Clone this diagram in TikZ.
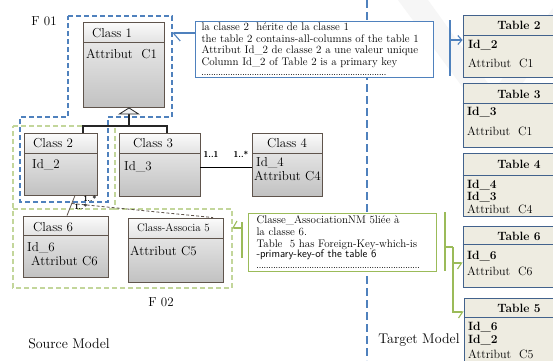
\documentclass[tikz,border=0pt]{standalone}
\usetikzlibrary{arrows.meta,fit}
\definecolor{wordblue}{RGB}{79,129,189}
\definecolor{tabedge}{RGB}{66,98,140}
\definecolor{tabfill}{RGB}{238,236,225}
\definecolor{wordgreen}{RGB}{155,187,89}
\definecolor{lightgreen}{RGB}{195,214,155}
\definecolor{classedge}{RGB}{95,84,76}
\newcommand\notedots[1]{\makebox[#1][l]{\leaders\hbox to 2.4pt{\hss.\hss}\hfill}}
\begin{document}
\begin{tikzpicture}[x=1pt,y=-1pt,
  classbody/.style={draw=classedge,line width=0.9pt,top color=gray!10,bottom color=gray!48,inner sep=0pt},
  classhead/.style={draw=classedge,line width=0.9pt,top color=gray!3,bottom color=gray!22,inner sep=0pt},
  tablebox/.style={draw=tabedge,line width=0.9pt,fill=tabfill,inner sep=0pt},
  classtext/.style={anchor=base west,font=\fontsize{13}{15}\selectfont},
  tabletitle/.style={anchor=base,font=\bfseries\fontsize{12}{14}\selectfont},
  tablekey/.style={anchor=base west,font=\bfseries\fontsize{12}{14}\selectfont},
  tablecol/.style={anchor=base west,font=\fontsize{12}{14}\selectfont},
  mult/.style={font=\sffamily\bfseries\fontsize{8.5}{9}\selectfont},
  notebox/.style={anchor=north west,align=left,fill=white,inner ysep=0pt,font=\fontsize{11}{12}\selectfont},
  callout/.style={line width=1.1pt},
  genline/.style={line width=1.2pt,draw=black!85},
  caption/.style={font=\fontsize{14}{16}\selectfont}]
\tikzstyle{every node}+=[inner sep=0pt]

\useasboundingbox (0,0) rectangle (553,360);
\clip (0,0) rectangle (553,360);
\fill[white] (0,0) rectangle (553,360);

% watermark
\fill[gray!7] (398,0) -- (428,0) -- (500,100) -- (478,108) -- cycle;
\fill[gray!7] (553,8) -- (553,40) -- (505,108) -- (490,96) -- cycle;

% source / target divider
\draw[wordblue,line width=2.5pt,dash pattern=on 8pt off 4pt] (367,0) -- (367,360);

% fragments
\draw[lightgreen,line width=1.3pt,dash pattern=on 5pt off 3pt] (13,126) -- (115,126) -- (115,209) -- (232,209) -- (232,288) -- (13,288) -- cycle (13,209) -- (115,209);
\draw[wordblue,line width=1.2pt,dash pattern=on 5pt off 3pt] (68,16) -- (172,16) -- (172,117) -- (108,117) -- (108,202) -- (20,202) -- (20,117) -- (68,117) -- cycle;
\node[caption,font=\fontsize{13}{15}\selectfont] (f01) at (44,21) {F 01};
\node[caption,font=\fontsize{13}{15}\selectfont] (f02) at (161,302) {F 02};

% classes
\node[classbody,fit={(83,22) (164,107)}] (c1) {};
\node[classhead,fit={(83,22) (164,42)}] (c1h) {};
\node[classtext] (c1t) at (92,37) {Class 1};
\node[classtext] (c1a) at (86,58) {Attribut\ \ C1};

\node[classbody,fit={(24,133) (97,195)}] (c2) {};
\node[classhead,fit={(24,133) (97,153)}] (c2h) {};
\node[classtext] (c2t) at (33,147) {Class 2};
\node[classtext] (c2a) at (32,168) {Id\_2};

\node[classbody,fit={(119,133) (200,196)}] (c3) {};
\node[classhead,fit={(119,133) (200,153)}] (c3h) {};
\node[classtext] (c3t) at (133,147) {Class 3};
\node[classtext] (c3a) at (124,170) {Id\_3};

\node[classbody,fit={(252,133) (322,196)}] (c4) {};
\node[classhead,fit={(252,133) (322,153)}] (c4h) {};
\node[classtext] (c4t) at (267,147) {Class 4};
\node[classtext] (c4a) at (256,166) {Id\_4};
\node[classtext] (c4b) at (254,180) {Attribut C4};

\node[classbody,fit={(23,216) (108,277)}] (c6) {};
\node[classhead,fit={(23,216) (108,235)}] (c6h) {};
\node[classtext] (c6t) at (33,231) {Class 6};
\node[classtext] (c6a) at (27,251) {Id\_6};
\node[classtext] (c6b) at (31,265) {Attribut C6};

\node[classbody,fit={(128,218) (223,282)}] (c5) {};
\node[classhead,fit={(128,218) (223,238)}] (c5h) {};
\node[classtext,font=\fontsize{11}{13}\selectfont] (c5t) at (137,231) {Class-Associa 5};
\node[classtext] (c5a) at (130,255) {Attribut C5};

% inheritance
\coordinate (gen) at (129,126);
\draw[genline,-{Triangle[length=7pt,width=22pt,fill=gray!12,line width=0.8pt]}] (gen) -- (c1.south -| gen);
\draw[genline] (c2.north -| 83,0) |- (gen) -| (c3.north -| 167,0);

% associations
\draw[line width=0.9pt] (c3.east |- 0,167) -- (c4.west |- 0,167);
\node[mult] (m31) at (211,154) {1..1};
\node[mult] (m43) at (241,154) {1..*};
\draw[classedge,line width=0.8pt] (c2.south -| 75,0) -- coordinate[pos=0.4] (amid) (c6.north -| 67,0);
\draw[classedge,line width=0.8pt,dash pattern=on 3pt off 2pt] (amid) -- (c5.north -| 213,0);
\node[mult,font=\sffamily\bfseries\fontsize{7.5}{8}\selectfont] (m26) at (90,199) {1..*};
\node[mult,font=\sffamily\bfseries\fontsize{7.5}{8}\selectfont] (m62) at (81,207) {1..*};

% notes
\node[notebox,draw=wordblue,line width=1pt,inner xsep=6pt,minimum width=238pt,minimum height=56pt,text width=226pt,font=\fontsize{11}{11.5}\selectfont] (n1) at (195,21) {%
la classe 2\ \ hérite de la classe 1\\
the table 2 contains-all-columns of the table 1\\
Attribut Id\_2 de classe 2 a une valeur unique\\
Column Id\_2 of Table 2 is a primary key\\[-1pt]
\notedots{185pt}};

\node[notebox,draw=wordgreen,line width=1pt,inner xsep=8pt,minimum width=188pt,minimum height=58pt,text width=172pt] (n2) at (248,213) {%
Classe\_AssociationNM 5liée à\\
la classe 6.\\
Table\ \ 5 has Foreign-Key-which-is\\[-2pt]
{\sffamily -primary-key-of the table 6}\\[-1pt]
\notedots{165pt}};

% tables
\node[tablebox,fit={(463,15) (575,77)}] (t2) {};
\draw[tabedge,line width=0.9pt] (t2.west |- 0,35) -- (t2.east |- 0,35);
\node[tabletitle] (t2t) at (519,29) {Table 2};
\node[tablekey] (t2k) at (468,48) {Id\_2};
\node[tablecol] (t2c) at (468,67) {Attribut\ \ C1};

\node[tablebox,fit={(463,83) (575,147)}] (t3) {};
\draw[tabedge,line width=0.9pt] (t3.west |- 0,103) -- (t3.east |- 0,103);
\node[tabletitle] (t3t) at (519,98) {Table 3};
\node[tablekey] (t3k) at (467,115) {Id\_3};
\node[tablecol] (t3c) at (467,135) {Attribut\ \ C1};

\node[tablebox,fit={(463,153) (575,216)}] (t4) {};
\draw[tabedge,line width=0.9pt] (t4.west |- 0,175) -- (t4.east |- 0,175);
\node[tabletitle] (t4t) at (519,168) {Table 4};
\node[tablekey] (t4k) at (467,188) {Id\_4};
\node[tablekey] (t4f) at (467,200) {Id\_3};
\node[tablecol] (t4c) at (467,213) {Attribut\ \ C4};

\node[tablebox,fit={(463,226) (575,287)}] (t6) {};
\draw[tabedge,line width=0.9pt] (t6.west |- 0,244) -- (t6.east |- 0,244);
\node[tabletitle] (t6t) at (519,240) {Table 6};
\node[tablekey] (t6k) at (467,259) {Id\_6};
\node[tablecol] (t6c) at (467,275) {Attribut\ \ C6};

\node[tablebox,fit={(464,298) (575,380)}] (t5) {};
\draw[tabedge,line width=0.9pt] (t5.west |- 0,317) -- (t5.east |- 0,317);
\node[tabletitle] (t5t) at (519,312) {Table 5};
\node[tablekey] (t5k) at (468,330) {Id\_6};
\node[tablekey] (t5f) at (468,343) {Id\_2};
\node[tablecol] (t5c) at (468,358) {Attribut\ \ C5};

% callouts
\coordinate (f1edge) at (172,33);
\draw[wordblue,callout,-{Straight Barb[left,length=7pt,width=16pt]}] (n1.west |- f1edge) -- (f1edge);
\draw[wordblue,line width=1.4pt] (450,20) -- (450,76);
\coordinate (b1) at (450,40);
\draw[wordblue,callout,-{Straight Barb[length=4pt,width=9pt]}] (b1) -- (t2.west |- b1);

\coordinate (f2edge) at (232,228);
\draw[wordgreen,line width=1.6pt] (242,222) -- (242,258);
\coordinate (g1) at (242,228);
\draw[wordgreen,callout,-{Straight Barb[right,length=4pt,width=14pt]}] (g1) -- (f2edge);
\draw[wordgreen,line width=1.6pt] (445,212) -- (445,271);
\coordinate (g2) at (445,247);
\coordinate (gj) at (453,247);
\draw[wordgreen,callout] (g2) -- (gj);
\draw[wordgreen,callout,-{Straight Barb[right,length=4pt,width=12pt]}] (gj) |- (t5.west |- 0,312);
\draw[wordgreen,callout,-{Straight Barb[right,length=4pt,width=12pt]}] (gj |- 0,263) -- (t6.west |- 0,263);

% model captions
\node[caption] (src) at (69,344) {Source Model};
\node[caption] (tgt) at (419,340) {Target Model};
\end{tikzpicture}
\end{document}
